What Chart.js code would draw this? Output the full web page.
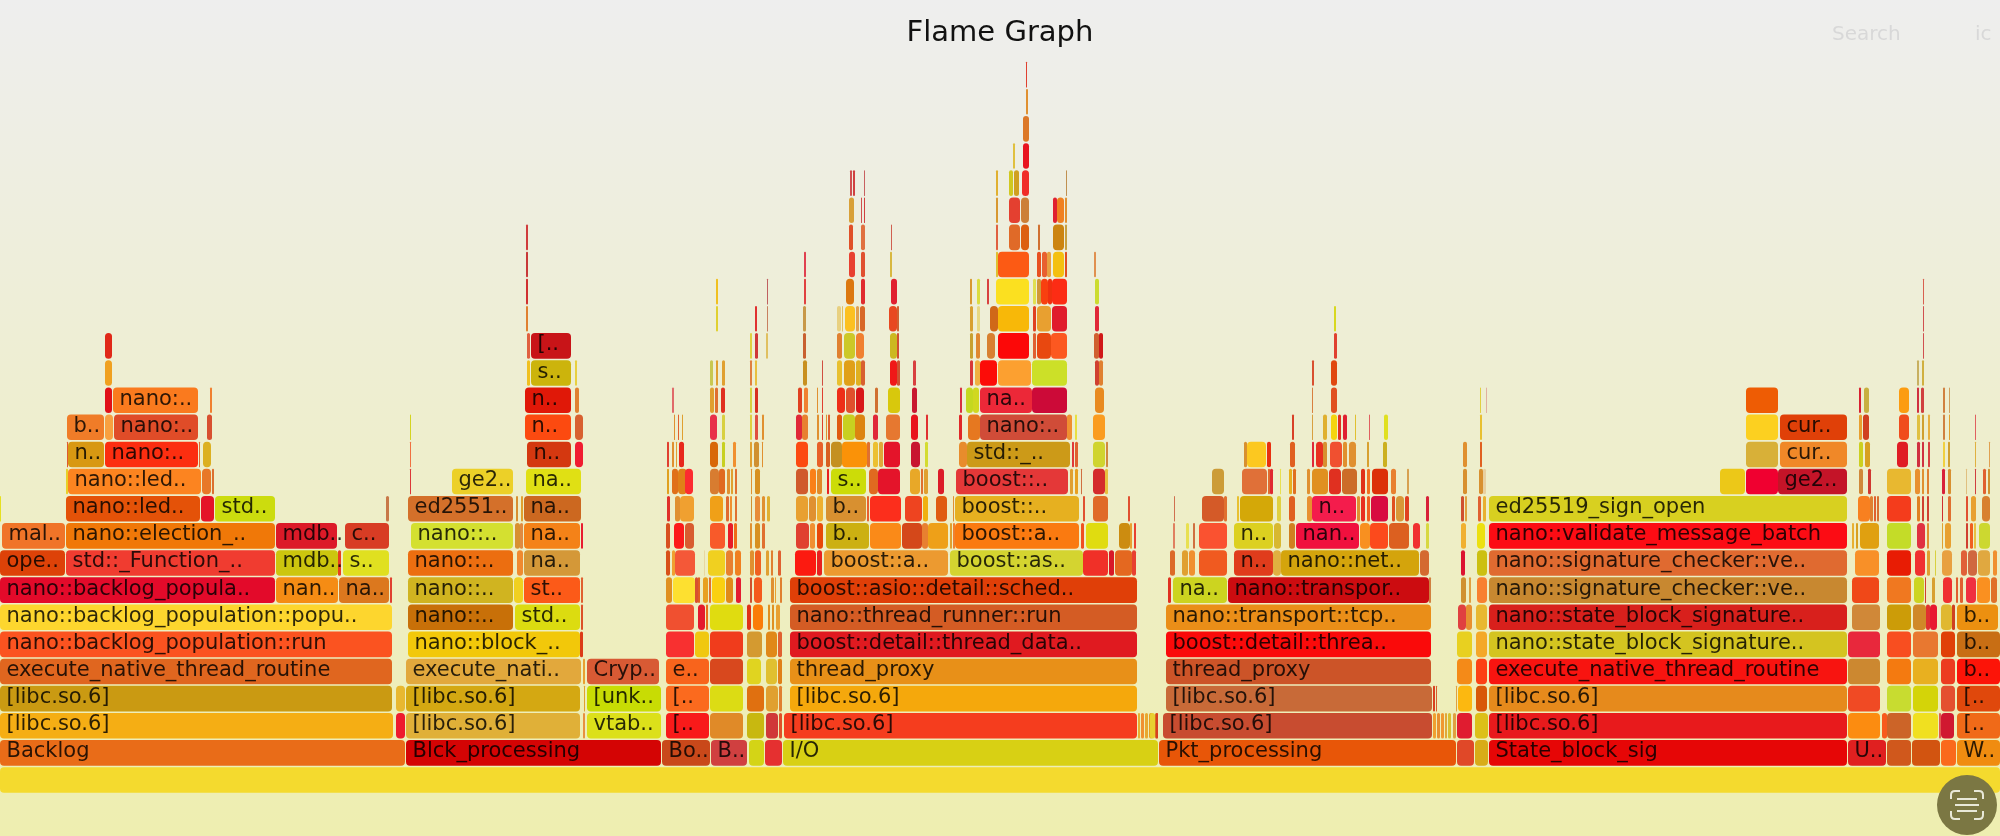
<!DOCTYPE html>
<html>
<head>
<meta charset="utf-8">
<title>Flame Graph</title>
<script src="https://cdn.jsdelivr.net/npm/chart.js@4"></script>
<style>
  html, body { margin: 0; padding: 0; }
  body { width: 2000px; height: 836px; overflow: hidden; background: linear-gradient(#eeeeee, #eeeeb0); }
  #wrap { position: relative; width: 2000px; height: 836px; }
  .ui { position: absolute; top: 21px; font: 20px "DejaVu Sans", sans-serif; color: #d8d8d8; }
  #scan { position: absolute; left: 1937px; top: 775px; width: 60px; height: 60px; border-radius: 50%; background: #7b7743; }
</style>
</head>
<body>
<div id="wrap">
  <canvas id="flame"></canvas>
  <div class="ui" style="left:1832px">Search</div>
  <div class="ui" style="left:1975px">ic</div>
  <div id="scan">
    <svg width="60" height="60" viewBox="0 0 60 60" fill="none" stroke="#e8e8d8" stroke-width="2">
      <path d="M14 24v-4q0-4 4-4h5M37 16h5q4 0 4 4v4M46 36v4q0 4-4 4h-5M23 44h-5q-4 0-4-4v-4M20 24h20M18 30h24M20 36h20"/>
    </svg>
  </div>
</div>
<script>
// one list per stack depth: [start, end, name] in samples, fills alongside
const spans0 = [[0, 2000]];
const fills0 = ['#f4da2e'];

const spans1 = [[0,405,'Backlog'],[406,661,'Blck_processing'],[662,710,'Bo..'],[711,747,'B..'],[749,764],[765,782],[783,1158,'I/O'],[1159,1456,'Pkt_processing'],[1457,1474],[1475,1488],[1489,1847,'State_block_sig'],[1848,1886,'U..'],[1887,1911],[1912,1940],[1941,1956],[1957,2000,'W..']];
const fills1 = ['#e96c18','#d40404','#c9481a','#d04040','#d4d416','#e53030','#d8d014','#e85608','#e04828','#d8ac18','#e60606','#e02020','#d0581c','#d25410','#fa6a1c','#f08c10'];

const spans2 = [[0,393,'[libc.so.6]'],[396,405],[406,580,'[libc.so.6]'],[583,585],[587,661,'vtab..'],[666,709,'[..'],[710,743],[747,764],[766,778],[779,782],[784,1137,'[libc.so.6]'],[1138,1140],[1141,1144],[1145,1148],[1149,1153],[1155,1158],[1150,1155],[1156,1158],[1163,1432,'[libc.so.6]'],[1433,1436],[1437,1440],[1441,1444],[1445,1447],[1448,1451],[1453,1456],[1457,1472],[1475,1488],[1489,1847,'[libc.so.6]'],[1848,1880],[1882,1887],[1887,1911],[1913,1938],[1939,1941],[1941,1954],[1957,2000,'[..']];
const fills2 = ['#f5ae14','#ee1a2e','#e0b038','#e89040','#dce01a','#f81a1a','#e08a28','#c8b810','#d03838','#e05028','#f53d1e','#e8b030','#f09030','#e8a830','#e8a020','#d87020','#e8d030','#d84020','#c84c30','#f0a030','#e89030','#f09830','#e0a838','#d8c030','#e0a040','#e01c30','#dcc018','#e81a1c','#fc8c10','#f85a1c','#cc6428','#f0e020','#e05a50','#d01830','#f06a18'];

const spans3 = [[0,392,'[libc.so.6]'],[396,405],[406,580,'[libc.so.6]'],[584,585],[587,661,'[unk..'],[666,709,'[..'],[710,743],[747,764],[766,778],[779,782],[790,1137,'[libc.so.6]'],[1166,1432,'[libc.so.6]'],[1433,1435],[1436,1437],[1456,1457],[1458,1472],[1476,1487],[1489,1847,'[libc.so.6]'],[1848,1880],[1887,1911],[1913,1938],[1941,1955],[1957,2000,'[..']];
const fills3 = ['#ca9a12','#e8b830','#d4a812','#e0a030','#c8dc04','#fb6a1e','#dcdc14','#e07010','#e0a030','#e08030','#f5a80c','#c86a38','#d84020','#d86030','#e0a040','#fcb810','#d85808','#e68a1c','#f04a24','#c8dc30','#d4d408','#e45030','#e0480c'];

const spans4 = [[0,392,'execute_native_thread_routine'],[406,581,'execute_nati..'],[583,585],[587,659,'Cryp..'],[666,709,'e..'],[710,743],[747,761],[766,777],[778,782],[790,1137,'thread_proxy'],[1166,1431,'thread_proxy'],[1457,1472],[1476,1487],[1489,1847,'execute_native_thread_routine'],[1848,1880],[1887,1911],[1913,1938],[1941,1955],[1957,2000,'b..']];
const fills4 = ['#e0661f','#e2a83c','#e8a030','#d85a34','#f8641c','#d8481e','#e0d420','#e0c030','#e08018','#e89018','#cc5428','#f48a18','#fc4014','#f81410','#cc8830','#f47a10','#e8b020','#ec3c20','#fc1408'];

const spans5 = [[0,392,'nano::backlog_population::run'],[408,580,'nano::block_..'],[580,583],[666,694],[695,709],[710,743],[747,762],[766,777],[778,782],[790,1137,'boost::detail::thread_data..'],[1166,1431,'boost::detail::threa..'],[1457,1472],[1476,1487],[1489,1847,'nano::state_block_signature..'],[1848,1880],[1887,1911],[1913,1938],[1941,1955],[1957,2000,'b..']];
const fills5 = ['#fb5320','#f2c80a','#dc3c18','#f83030','#f0c810','#f03c1c','#d49a30','#e08818','#e06030','#e01a20','#fa0a0a','#e8d020','#f4a828','#d4c420','#e8283c','#f84e20','#e87830','#e04008','#c86e14'];

const spans6 = [[0,392,'nano::backlog_population::popu..'],[408,513,'nano::..'],[515,580,'std..'],[581,583],[666,694],[698,705],[706,708],[710,743],[747,751],[753,763],[768,770],[772,774],[776,780],[790,1137,'nano::thread_runner::run'],[1166,1431,'nano::transport::tcp..'],[1458,1466],[1466,1472],[1476,1487],[1489,1847,'nano::state_block_signature..'],[1852,1880],[1887,1911],[1913,1926],[1926,1930],[1930,1937],[1941,1952],[1952,1955],[1957,1998,'b..']];
const fills6 = ['#fdd62e','#c87008','#dcdc10','#dc5028','#f05030','#e41a2e','#e87018','#e0dc10','#e03018','#fa7c08','#e09020','#e09020','#e8a030','#d45c24','#ea8e18','#e04040','#e89030','#e8b830','#d8201c','#d08838','#cc9c08','#d08828','#e03030','#e81830','#e0b830','#d04020','#ec9010'];

const spans7 = [[0,275,'nano::backlog_popula..'],[276,338,'nan..'],[339,389,'na..'],[390,392],[408,513,'nano::..'],[514,523],[524,580,'st..'],[581,583],[666,672],[673,695],[695,698],[698,700],[703,708],[709,711],[712,725],[726,733],[736,741],[750,752],[754,762],[771,774],[775,776],[780,782],[790,1137,'boost::asio::detail::sched..'],[1168,1171],[1173,1227,'na..'],[1228,1429,'nano::transpor..'],[1429,1431],[1461,1466],[1469,1471],[1477,1487],[1489,1847,'nano::signature_checker::ve..'],[1852,1879],[1887,1911],[1914,1924],[1925,1926],[1932,1935],[1943,1952],[1956,1958],[1960,1963],[1966,1976],[1977,1990],[1991,1997]];
const fills7 = ['#e30a2a','#f58c14','#dc781e','#e04030','#d0b420','#f0d020','#fc5a18','#e06030','#e09020','#fde030','#d85030','#e06020','#e8a020','#e07030','#fad010','#e08a18','#e41c30','#d0502c','#f45a1c','#e09030','#e8a030','#e08030','#e03f08','#e03020','#ccd420','#cc0c10','#d08040','#d09030','#e0a040','#f88030','#c88830','#f04818','#f07820','#ccd420','#d04030','#d8a030','#f03030','#e06030','#e06030','#f03040','#fa9020','#e07028'];

const spans8 = [[0,65,'ope..'],[66,275,'std::_Function_..'],[276,338,'mdb..'],[338,341],[343,389,'s..'],[408,513,'nano::..'],[517,523],[524,580,'na..'],[666,670],[672,675],[675,695],[704,705],[708,725],[726,733],[735,741],[750,754],[755,761],[766,769],[771,773],[778,781],[795,816],[817,822],[824,948,'boost::a..'],[950,1083,'boost::as..'],[1083,1108],[1109,1114],[1115,1132],[1132,1136],[1170,1175],[1182,1188],[1189,1195],[1199,1227],[1234,1273,'n..'],[1273,1281],[1281,1419,'nano::net..'],[1420,1429],[1461,1465],[1477,1487],[1489,1847,'nano::signature_checker::ve..'],[1855,1879],[1887,1911],[1915,1925],[1927,1930],[1935,1936],[1942,1952],[1961,1967],[1968,1977],[1978,1990],[1993,1997]];
const fills8 = ['#dd4208','#f03c30','#ccc60e','#e84020','#e0e020','#ec6e10','#f08a30','#d49838','#d85018','#f0a030','#f45838','#e8d8a0','#f0d020','#e88030','#f08020','#e09030','#f06020','#e0a030','#e08030','#e06030','#fc1a10','#e82020','#ec9a30','#d4d430','#f03028','#d81828','#e46820','#e84030','#dc6a28','#e0a030','#f09030','#f05a20','#e03c1c','#e0b040','#d4a40c','#d46a30','#dc1430','#ccc010','#e06a30','#f89028','#e81c04','#f03030','#e0a030','#d8d040','#e8a040','#e06038','#d06840','#e0a840','#f09030'];

const spans9 = [[2,65,'mal..'],[66,275,'nano::election_..'],[276,337,'mdb..'],[345,389,'c..'],[411,513,'nano::..'],[515,520],[520,523],[524,580,'na..'],[581,583],[666,670],[674,684],[685,694],[710,725],[728,733],[734,737],[750,752],[755,760],[762,765],[796,809],[810,815],[817,823],[826,869,'b..'],[870,901],[902,922],[922,928],[928,948],[950,952],[953,955],[955,1079,'boost::a..'],[1081,1084],[1086,1108],[1119,1130],[1130,1132],[1134,1136],[1173,1175],[1186,1189],[1193,1195],[1199,1227],[1234,1273,'n..'],[1274,1281],[1289,1295],[1296,1359,'nan..'],[1360,1370],[1370,1388],[1389,1409],[1413,1420],[1426,1429],[1461,1466],[1477,1485],[1489,1847,'nano::validate_message_batch'],[1852,1854],[1856,1858],[1860,1879],[1887,1911],[1917,1925],[1927,1929],[1942,1943],[1945,1951],[1966,1968],[1970,1973],[1974,1976],[1979,1990]];
const fills9 = ['#f07428','#f07808','#dc1a28','#d83c24','#d4e030','#d89030','#e08a40','#f48218','#e81c30','#d85020','#fc1a1a','#d85c30','#f85a2a','#e81c28','#f06a18','#e09030','#d89020','#e07030','#e04030','#f09030','#e84808','#ccb012','#fa8a18','#d4481a','#e88030','#eea018','#e0a030','#f08030','#fa7a10','#f05020','#e0dc10','#cc8c10','#e8a030','#e84030','#e08060','#e8e050','#d07040','#fa5230','#dcd020','#d8b830','#d08020','#f0103e','#f89020','#fc4a1c','#dc6020','#f03030','#d8d840','#f0b030','#ece010','#fc0c14','#e8b030','#d8a020','#e0a010','#c4dc28','#e03040','#e09030','#e0a030','#e8a030','#d04030','#f06020','#e8c040','#ccd830'];

const spans10 = [[0,1],[66,200,'nano::led..'],[201,214],[215,275,'std..'],[386,389],[408,513,'ed2551..'],[516,518],[521,523],[524,581,'na..'],[667,670],[675,680],[680,694],[710,723],[726,729],[730,732],[735,737],[751,752],[755,760],[762,765],[767,770],[796,808],[809,816],[817,823],[826,866,'b..'],[867,869],[870,901],[905,922],[923,928],[936,947],[953,954],[955,1079,'boost::..'],[1083,1085],[1093,1108],[1128,1130],[1174,1175],[1202,1224],[1224,1227],[1237,1239],[1240,1273],[1277,1281],[1289,1295],[1307,1312],[1312,1356,'n..'],[1357,1360],[1361,1365],[1367,1370],[1371,1388],[1392,1395],[1396,1404],[1405,1409],[1426,1429],[1461,1464],[1465,1467],[1478,1481],[1483,1486],[1489,1847,'ed25519_sign_open'],[1858,1870],[1870,1873],[1874,1876],[1877,1879],[1887,1911],[1917,1920],[1922,1924],[1927,1929],[1942,1943],[1948,1951],[1966,1968],[1971,1976],[1982,1990]];
const fills10 = ['#e6e020','#e45208','#e41428','#ccdc0e','#c87848','#d4702a','#d89030','#e0a030','#cc6820','#e0302a','#e09030','#f0a030','#f0a018','#e06a30','#f09030','#e07030','#d09030','#e88c38','#e09030','#e0b030','#e8a030','#e09030','#eeb030','#d89030','#e86030','#fc2e1c','#ee4420','#f0b010','#e05c10','#e09030','#e6b020','#e05030','#e06a28','#e05030','#d07050','#d45a28','#e07030','#e8c030','#d4a808','#e0d040','#e06020','#e89030','#f41c4c','#e09030','#e83020','#f06020','#d80c40','#e05020','#d89838','#e04020','#d82038','#d05030','#e0a040','#e06030','#e8b030','#d8d020','#f88020','#e08030','#e06030','#d87030','#f43c1c','#e08020','#d04030','#d04030','#d03030','#e07030','#e05030','#e8a030','#d88030'];

const spans11 = [[66,68],[68,201,'nano::led..'],[202,211],[212,214],[410,411],[452,513,'ge2..'],[526,581,'na..'],[667,669],[672,678],[678,687],[685,693],[710,719],[719,725],[727,730],[731,733],[735,737],[751,752],[755,760],[796,808],[810,816],[817,822],[827,829],[831,866,'s..'],[869,878],[878,900],[910,920],[921,923],[924,928],[938,944],[956,1068,'boost::..'],[1070,1073],[1075,1078],[1081,1082],[1093,1105],[1105,1108],[1212,1224],[1242,1267],[1268,1270],[1270,1273],[1280,1281],[1289,1292],[1293,1296],[1307,1310],[1312,1328],[1329,1341],[1342,1357],[1361,1365],[1367,1370],[1372,1388],[1391,1396],[1407,1409],[1463,1467],[1479,1483],[1483,1486],[1720,1745],[1746,1778],[1778,1847,'ge2..'],[1859,1863],[1868,1871],[1887,1911],[1915,1920],[1922,1924],[1927,1929],[1942,1945],[1948,1951],[1966,1967],[1975,1976],[1983,1986],[1988,1990]];
const fills11 = ['#e8d028','#fc8420','#e87828','#dc7030','#dc3838','#ecd028','#e0e014','#e0a020','#e07018','#e08018','#fc2c30','#d87c30','#e06a20','#e09030','#e0a030','#e07030','#e09030','#d89020','#d05a2c','#fa8018','#e08a28','#e82020','#ccdc08','#e06a20','#e4142a','#e8a828','#e07030','#e0a030','#dc1c28','#e43838','#e0a030','#e8a020','#d07040','#d42c2c','#e8c040','#cc9c38','#e07038','#e06a30','#e02830','#e8e050','#e8b020','#e07020','#e09030','#e09020','#e03020','#cc6c28','#e03018','#f07020','#dc3008','#e88030','#d8a050','#d89030','#d89030','#e8d0a0','#ecc818','#f00030','#c41428','#d08838','#d03830','#e8b830','#e89030','#e09030','#e08030','#d82038','#d89030','#e0c080','#d04040','#e06030','#d09030'];

const spans12 = [[67,68],[68,104,'n..'],[105,198,'nano:..'],[199,200],[203,211],[410,411],[527,571,'n..'],[575,583],[667,669],[672,674],[676,677],[679,684],[710,718],[722,725],[733,736],[750,752],[754,759],[762,763],[796,808],[817,823],[826,830],[831,842],[842,867],[867,870],[873,878],[879,883],[884,900],[911,920],[925,928],[959,967],[967,1070,'std::_..'],[1072,1074],[1075,1078],[1093,1105],[1106,1108],[1244,1247],[1247,1266],[1267,1271],[1290,1295],[1312,1314],[1316,1323],[1323,1327],[1330,1342],[1343,1347],[1349,1356],[1367,1369],[1383,1387],[1463,1467],[1480,1482],[1746,1778],[1780,1847,'cur..'],[1859,1863],[1865,1870],[1897,1908],[1917,1920],[1922,1924],[1928,1930],[1943,1945],[1948,1950],[1975,1976],[1989,1990]];
const fills12 = ['#e05a30','#d89812','#fc2e10','#e06a30','#dcb020','#f07040','#d43810','#f01c30','#e04030','#e09030','#e0a030','#e8281c','#d86808','#c8d020','#f09030','#e0a030','#d09030','#e09030','#fc4a10','#e86028','#d86020','#c49020','#fa9208','#e07030','#ecc030','#e0a838','#e4142a','#c81430','#d4dc30','#e88c2c','#cc9a18','#e03838','#e06030','#d0d430','#d08840','#d89030','#fcc820','#e83010','#e06020','#e02838','#e83020','#d89030','#f05030','#e09030','#e09030','#d8a030','#ccb020','#e09030','#e06020','#d8b038','#f08828','#ccd020','#d8a020','#e01c24','#d03040','#d03040','#d84040','#f0d040','#d0a030','#e0b040','#e0a050'];

const spans13 = [[67,104,'b..'],[105,113],[114,198,'nano:..'],[207,212],[410,411],[525,571,'n..'],[575,583],[674,675],[678,679],[682,683],[710,717],[722,725],[750,752],[755,758],[762,764],[796,802],[802,808],[817,819],[822,823],[826,827],[828,830],[837,842],[843,855],[855,865],[873,878],[886,900],[911,918],[926,928],[959,962],[968,980],[980,1067,'nano:..'],[1067,1072],[1075,1077],[1093,1105],[1292,1294],[1312,1313],[1323,1327],[1331,1337],[1338,1341],[1343,1347],[1355,1356],[1369,1370],[1384,1388],[1480,1482],[1746,1778],[1780,1847,'cur..'],[1859,1862],[1863,1869],[1899,1909],[1917,1920],[1922,1924],[1928,1930],[1943,1945],[1949,1950],[1975,1976]];
const fills13 = ['#f07c28','#f8a040','#e04c28','#d85030','#d4d420','#fc4a10','#d86030','#e09030','#e06030','#e0a030','#e83048','#d8d040','#e0d040','#e05040','#e09030','#e02838','#e88030','#e09030','#e04030','#e09030','#e06030','#e05a10','#c8d020','#dc8410','#e02838','#e67830','#e8141c','#e03030','#e02828','#e67820','#d04c38','#f09030','#e8e040','#fa9c20','#d84028','#d8a040','#e0b030','#f4d410','#e03020','#e02030','#e0c030','#e06060','#e0e020','#e8c030','#fcd020','#e04008','#e8a030','#d04020','#f04c1c','#e0c040','#d0a030','#e8b040','#d08040','#e0a030','#e06060'];

const spans14 = [[105,112],[113,198,'nano:..'],[210,212],[525,571,'n..'],[575,579],[672,674],[710,714],[715,718],[721,725],[750,752],[755,758],[798,802],[804,808],[817,818],[822,823],[837,845],[846,855],[856,864],[875,878],[888,900],[912,917],[960,962],[966,973],[973,979],[980,1032,'na..'],[1032,1067],[1095,1104],[1312,1313],[1331,1337],[1480,1481],[1486,1487],[1746,1778],[1859,1861],[1864,1869],[1899,1909],[1917,1919],[1921,1924],[1943,1945],[1949,1950]];
const fills14 = ['#e01018','#fa7a1e','#f08030','#e01808','#e08030','#e06a6a','#e0a030','#e07030','#e03020','#d8d040','#d83020','#e04020','#f08030','#e09030','#e04030','#ee2e18','#e0502c','#d81818','#d07030','#d8c80c','#c81830','#d83040','#c4d820','#d0d820','#ec2838','#cc0a38','#e88a20','#d88040','#e05020','#e0d040','#e0b0a0','#ee5c04','#d82030','#c8b040','#fc9c10','#d03040','#d04040','#d08040','#d0a060'];

const spans15 = [[105,112],[527,530],[531,571,'s..'],[575,577],[710,713],[716,718],[722,725],[750,752],[755,757],[803,807],[822,823],[837,842],[844,855],[856,861],[861,865],[890,897],[897,900],[913,916],[970,973],[975,980],[980,997],[998,1031],[1032,1067],[1095,1099],[1099,1103],[1312,1314],[1331,1337],[1917,1919],[1922,1924]];
const fills15 = ['#f0a020','#f0c020','#ccb40c','#e8d040','#c8c850','#e0a030','#e0a030','#e08040','#e8c040','#c89020','#d05040','#e8c030','#e0a018','#e0b020','#d86030','#f01818','#d05030','#d84040','#d83838','#f0b040','#fc0c08','#fca030','#cce028','#d04030','#e08030','#d85030','#e04810','#c8b060','#d0b040'];

const spans16 = [[105,112],[527,530],[531,571,'[..'],[750,752],[755,758],[766,768],[803,806],[837,842],[844,855],[856,864],[890,897],[897,899],[970,973],[976,980],[987,995],[998,1029],[1033,1036],[1037,1051],[1051,1067],[1094,1099],[1099,1103],[1334,1337],[1923,1924]];
const fills16 = ['#e02818','#e06040','#c81418','#e0d040','#d03838','#e0c060','#c86030','#e08030','#ccc828','#f08030','#ccb820','#d05030','#c8a030','#e08830','#d88030','#fc0808','#e06030','#e84810','#fc5820','#d06030','#d01818','#e04030','#d05050'];

const spans17 = [[526,528],[716,718],[755,757],[767,768],[803,806],[837,841],[842,843],[845,855],[856,859],[860,865],[889,897],[897,899],[970,973],[977,980],[990,998],[998,1029],[1033,1036],[1037,1051],[1052,1067],[1095,1099],[1334,1336],[1923,1924]];
const fills17 = ['#e08030','#e0d030','#e03030','#c88060','#c89848','#e8d080','#e0c060','#fcc020','#e0a050','#d86828','#e84820','#d06030','#d8a030','#e8d880','#d06818','#f8b808','#e04020','#e8a030','#e01c2c','#e02838','#d8d820','#d05050'];

const spans18 = [[526,528],[716,718],[767,768],[804,806],[846,854],[861,865],[891,897],[970,972],[977,980],[987,989],[996,1029],[1033,1036],[1037,1041],[1041,1048],[1048,1052],[1052,1067],[1095,1099],[1923,1924]];
const fills18 = ['#d03030','#f0c020','#c06060','#e04040','#dc7810','#e02c30','#e02030','#d89830','#dcdc40','#d84040','#fbe020','#e0e050','#d09838','#f84010','#f03010','#fc2c14','#ccdc30','#d86050'];

const spans19 = [[526,528],[804,806],[849,855],[861,865],[890,892],[996,998],[998,1029],[1037,1041],[1042,1047],[1047,1051],[1053,1064],[1065,1067],[1094,1096]];
const fills19 = ['#c83838','#e04050','#e84030','#e05030','#d8b840','#e0c030','#fc5a14','#e85020','#e86030','#e8a040','#f4c010','#e05020','#e09050'];

const spans20 = [[526,528],[849,853],[861,865],[891,892],[996,998],[1009,1020],[1021,1029],[1038,1040],[1053,1064],[1065,1067]];
const fills20 = ['#d03c3c','#e05028','#e07040','#d06050','#e06040','#e06a28','#dc6010','#d07030','#cc8410','#c8a040'];

const spans21 = [[849,854],[861,862],[864,865],[996,998],[1009,1020],[1021,1029],[1053,1057],[1057,1064],[1065,1067]];
const fills21 = ['#d8a038','#d05050','#d04040','#d89830','#e44030','#cc8038','#e02030','#f08020','#e09030'];

const spans22 = [[850,852],[853,855],[864,865],[996,998],[1009,1013],[1014,1019],[1022,1029],[1066,1067]];
const fills22 = ['#d05050','#d04040','#c86060','#e0b030','#d0c820','#d0a020','#f02c28','#c09050'];

const spans23 = [[1013,1015],[1023,1029]];
const fills23 = ['#e0c040','#e81420'];

const spans24 = [[1023,1029]];
const fills24 = ['#dc7828'];

const spans25 = [[1026,1028]];
const fills25 = ['#e09030'];

const spans26 = [[1026,1027]];
const fills26 = ['#e04030'];

const allSpans = [spans0,spans1,spans2,spans3,spans4,spans5,spans6,spans7,spans8,spans9,spans10,spans11,spans12,spans13,spans14,spans15,spans16,spans17,spans18,spans19,spans20,spans21,spans22,spans23,spans24,spans25,spans26];
const allFills = [fills0,fills1,fills2,fills3,fills4,fills5,fills6,fills7,fills8,fills9,fills10,fills11,fills12,fills13,fills14,fills15,fills16,fills17,fills18,fills19,fills20,fills21,fills22,fills23,fills24,fills25,fills26];

const rowPitch = 27.13;
const rootCentre = 780;
const titleBox = 50.8;

const frames = [];
const colours = [];
allSpans.forEach((row, depth) => {
  row.forEach((s, i) => {
    frames.push({ x: [s[0], s[1]], y: depth, name: s[2] || '' });
    colours.push(allFills[depth][i] || '#e08030');
  });
});

// frame names go on top of the bars
const frameLabels = {
  id: 'frameLabels',
  afterDatasetsDraw(chart) {
    const ctx = chart.ctx;
    const bars = chart.getDatasetMeta(0).data;
    ctx.save();
    ctx.font = '21px "DejaVu Sans", sans-serif';
    ctx.fillStyle = 'rgba(0,0,0,0.82)';
    ctx.textBaseline = 'middle';
    bars.forEach((bar, i) => {
      if (!frames[i].name) return;
      const p = bar.getProps(['base', 'y'], true);
      ctx.fillText(frames[i].name, p.base + 6.5, p.y - 1);
    });
    ctx.restore();
  }
};

new Chart(document.getElementById('flame'), {
  type: 'bar',
  data: {
    datasets: [{
      data: frames,
      backgroundColor: colours,
      borderWidth: 0,
      borderRadius: 4,
      borderSkipped: false,
      inflateAmount: 0,
      barThickness: 25.6,
      grouped: false
    }]
  },
  options: {
    indexAxis: 'y',
    responsive: true,
    maintainAspectRatio: false,
    animation: false,
    layout: { padding: 0 },
    plugins: {
      legend: { display: false },
      tooltip: { enabled: false },
      title: {
        display: true,
        text: 'Flame Graph',
        color: '#111',
        font: { family: '"DejaVu Sans", sans-serif', size: 29, weight: 'normal', lineHeight: 1.2 },
        padding: { top: 16, bottom: 0 }
      }
    },
    scales: {
      x: { type: 'linear', min: 0, max: 2000, display: false },
      y: {
        type: 'linear',
        min: (rootCentre - 836) / rowPitch,
        max: (rootCentre - titleBox) / rowPitch,
        offset: false,
        display: false
      }
    }
  },
  plugins: [frameLabels]
});
</script>
</body>
</html>
